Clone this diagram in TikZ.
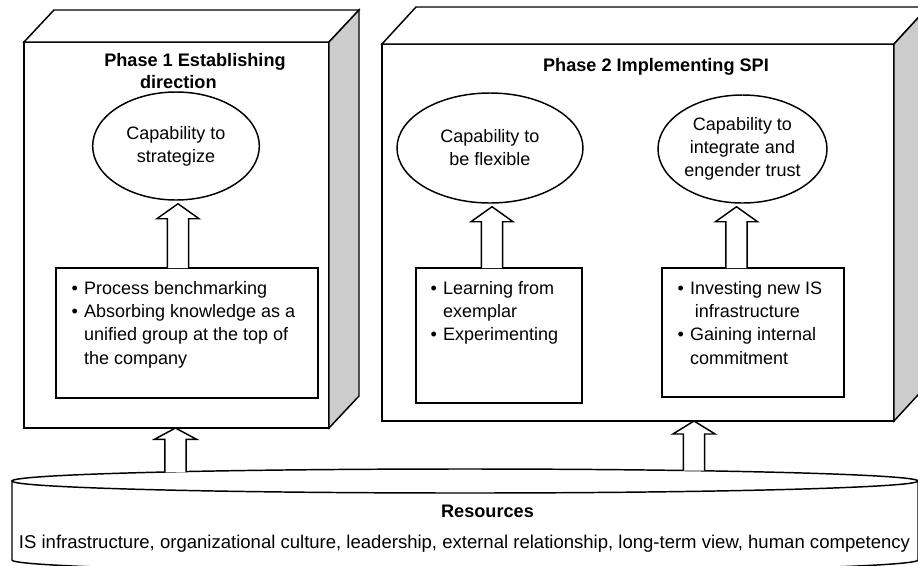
\documentclass[tikz,border=0pt]{standalone}
\usepackage{fontspec}
\setmainfont{Liberation Sans}
\usetikzlibrary{shapes.geometric,fit,calc}
\definecolor{sidegray}{RGB}{204,204,204}
\newcommand{\blkarrow}[3]{%
  \draw[blockarr] let \p1=(#1), \p2=(#2) in
    (\x1-7.9pt,\y1) -- (\x1-7.9pt,\y2-#3) -- (\x1-15.8pt,\y2-#3) -- (\x1,\y2)
    -- (\x1+15.8pt,\y2-#3) -- (\x1+7.9pt,\y2-#3) -- (\x1+7.9pt,\y1);}
\begin{document}
\begin{tikzpicture}[x=0.75pt,y=-0.75pt,line width=1.1pt,
  every node/.style={font=\fontsize{13.5}{17.5}\selectfont},
  whiteface/.style={draw, fill=white, line join=miter},
  grayface/.style={draw, fill=sidegray, line join=miter},
  frontbox/.style={draw, fill=white, inner sep=0pt, outer sep=0pt},
  capell/.style={draw, ellipse, fill=white, inner sep=0pt, align=center,
    font=\fontsize{13.5}{17.2}\selectfont},
  ibox/.style={draw, fill=white, inner sep=0pt, outer sep=0pt},
  itemtext/.style={anchor=base west, inner sep=0pt},
  blockarr/.style={draw, fill=white, line join=miter},
  ttl/.style={font=\bfseries\fontsize{13.6}{16.5}\selectfont, align=center, inner sep=0pt}]
\useasboundingbox (0,0) rectangle (918,565);
\clip (0,0) rectangle (918,565);
\fill[white] (0,0) rectangle (918,565);

% Phase 1 block
\node[frontbox, fit={(24,42) (329,428)}] (f1) {};
\draw[whiteface] (f1.north west) -- ++(30,-32) -- ++(305,0) -- (f1.north east) -- cycle;
\draw[grayface] (f1.north east) -- ++(30,-32) -- ++(0,386) -- (f1.south east) -- cycle;

% Phase 2 block
\node[frontbox, fit={(382,44) (894,421)}] (f2) {};
\draw[whiteface] (f2.north west) -- ++(34,-37) -- ++(512,0) -- (f2.north east) -- cycle;
\draw[grayface] (f2.north east) -- ++(34,-37) -- ++(0,377) -- (f2.south east) -- cycle;

% titles
\node[ttl] (t1) at (195,71) {Phase 1 Establishing\\direction\hspace*{25pt}};
\node[ttl, anchor=base] (t2) at (656,71) {Phase 2 Implementing SPI};

% capabilities
\node[capell, minimum width=125pt, minimum height=81pt] (e1) at (176,146) {Capability to\\strategize};
\node[capell, minimum width=139.5pt, minimum height=82.5pt] (e2) at (490,148) {Capability to\\be flexible};
\node[capell, minimum width=126.75pt, minimum height=81pt] (e3) at (742.5,149) {Capability to\\integrate and\\engender trust};

% practice boxes
\node[ibox, fit={(56,268) (318,398)}] (b1) {};
\node[ibox, fit={(416,268) (582,403)}] (b2) {};
\node[ibox, fit={(662,268) (844,397)}] (b3) {};

\node[itemtext] (b1t) at (71,294) {\begin{tabular}[t]{@{}l@{\hspace{4.5pt}}l@{}}
\textbullet & Process benchmarking\\
\textbullet & Absorbing knowledge as a\\
 & unified group at the top of\\
 & the company
\end{tabular}};
\node[itemtext] (b2t) at (430,294) {\begin{tabular}[t]{@{}l@{\hspace{4.5pt}}l@{}}
\textbullet & Learning from\\
 & exemplar\\
\textbullet & Experimenting
\end{tabular}};
\node[itemtext] (b3t) at (677,294) {\begin{tabular}[t]{@{}l@{\hspace{4.5pt}}l@{}}
\textbullet & Investing new IS\\
 & \hspace*{3.7pt}infrastructure\\
\textbullet & Gaining internal\\
 & commitment
\end{tabular}};

% resources cylinder
\draw[whiteface] (12,481) -- (12,560) arc[start angle=180, end angle=0, x radius=453, y radius=12] -- (918,481);
\draw[whiteface] (465,481) ellipse [x radius=453, y radius=12];
\node[font=\bfseries\fontsize{13.6}{16.5}\selectfont, anchor=base, inner sep=0pt] (res) at (487.5,517) {Resources};
\node[font=\fontsize{13.9}{17}\selectfont, anchor=base, inner sep=0pt] (rest) at (464.5,548) {IS infrastructure, organizational culture, leadership, external relationship, long-term view, human competency};

% arrows
\coordinate (a1) at ($(e1.south)+(2,3)$);
\coordinate (a2) at ($(e2.south)+(2,3)$);
\coordinate (a3) at ($(e3.south)+(-6,3)$);
\blkarrow{b1.north -| a1}{a1}{11.25pt}
\blkarrow{b2.north -| a2}{a2}{11.25pt}
\blkarrow{b3.north -| a3}{a3}{11.25pt}
\coordinate (c1) at (175.5,472);
\coordinate (c2) at (694,470.6);
\blkarrow{c1}{f1.south -| c1}{8.5pt}
\blkarrow{c2}{f2.south -| c2}{9.75pt}
\end{tikzpicture}
\end{document}
